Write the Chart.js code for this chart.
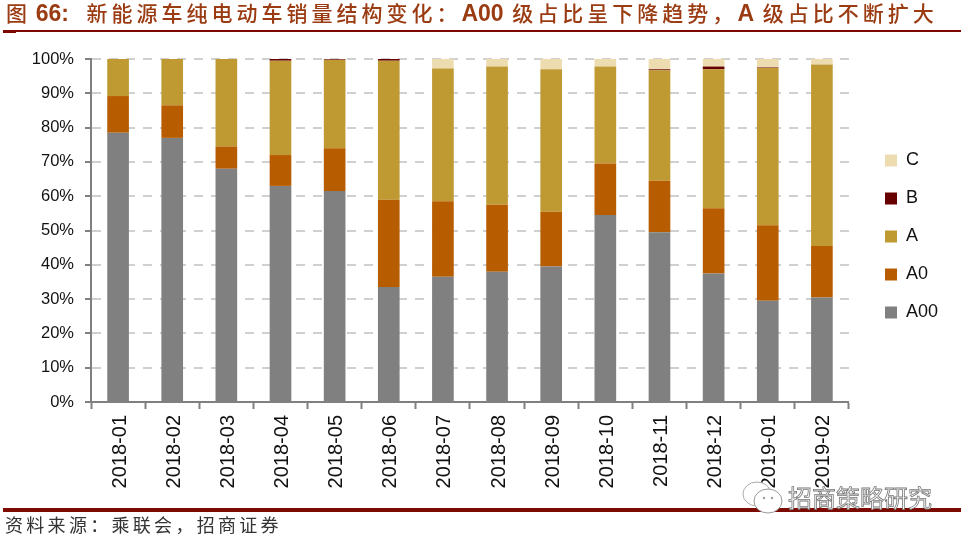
<!DOCTYPE html>
<html>
<head>
<meta charset="utf-8">
<script src="https://cdn.jsdelivr.net/npm/chart.js@4"></script>
<style>
  html, body { margin: 0; padding: 0; background: #fff; }
  #wrap { position: relative; width: 963px; height: 540px; overflow: hidden; }
  canvas { position: absolute; left: 0; top: 0; }
  #title { position: absolute; left: 6px; top: -2px; white-space: nowrap; color: #9a3b12; font: 500 21px "Noto Sans CJK SC"; letter-spacing: 4px; line-height: 28px; }
  #title b { font-family: "Liberation Sans"; font-size: 23px; letter-spacing: 0; }
  .rule { position: absolute; background: #7d0a00; }
  #source { position: absolute; left: 5px; top: 512px; color: #333; font: 18px/24px "Noto Sans CJK SC"; letter-spacing: 3.3px; white-space: nowrap; }
  #mark { position: absolute; left: 788px; top: 483px; color: #fff; font: 24px/28px "Noto Sans CJK SC"; -webkit-text-stroke: 0.8px #777; white-space: nowrap; }
  #icon { position: absolute; left: 741px; top: 480px; }
</style>
</head>
<body>
<div id="wrap">
  <canvas id="share-canvas" width="963" height="540"></canvas>
  <div id="title">图 <b style="margin-left:-4px">66:</b> &nbsp;新能源车纯电动车销量结构变化&#xFF1A;<b>A00</b> 级占比呈下降趋势&#xFF0C;<b>A</b> 级占比不断扩大</div>
  <div class="rule" style="left:3px;top:30px;width:958px;height:2px"></div>
  <div class="rule" style="left:3px;top:32px;width:13px;height:1px"></div>
  <div class="rule" style="left:3px;top:508px;width:958px;height:4px"></div>
  <div id="source">资料来源&#xFF1A;乘联会&#xFF0C;招商证券</div>
  <svg id="icon" width="44" height="36" viewBox="0 0 44 36">
    <ellipse cx="16" cy="14" rx="14" ry="12" fill="#fff" stroke="#aaa"/>
    <ellipse cx="27" cy="21" rx="14" ry="12" fill="#fff" stroke="#999"/>
    <circle cx="23" cy="18" r="1.2" fill="#999"/>
    <circle cx="31" cy="18" r="1.2" fill="#999"/>
  </svg>
  <div id="mark">招商策略研究</div>
</div>
<script>
const months = ['2018-01', '2018-02', '2018-03', '2018-04', '2018-05', '2018-06', '2018-07', '2018-08', '2018-09', '2018-10', '2018-11', '2018-12', '2019-01', '2019-02'];
const a00 = [78.5, 77, 68, 63, 61.5, 33.5, 36.5, 38, 39.5, 54.5, 49.5, 37.5, 29.5, 30.5];
const a0 = [10.7, 9.5, 6.5, 9, 12.5, 25.5, 22, 19.5, 16, 15, 15, 19, 22, 15];
const a = [10.8, 13.5, 25.5, 27.5, 25.7, 40.5, 38.7, 40.3, 41.5, 28.3, 32.2, 40.5, 45.9, 52.9];
const b = [0, 0, 0, 0.5, 0.2, 0.5, 0, 0, 0, 0, 0.3, 0.8, 0.15, 0];
const c = [0, 0, 0, 0, 0.1, 0, 2.8, 2.2, 3, 2.2, 3, 2.2, 2.45, 1.6];
const yTicks = [0, 10, 20, 30, 40, 50, 60, 70, 80, 90, 100];

// legend sits higher/further right than chart.js puts it by default
const moveLegend = {
  id: 'moveLegend',
  afterLayout(chart) {
    chart.legend.left += 16;
    chart.legend.right += 16;
    chart.legend.top -= 38;
    chart.legend.bottom -= 38;
  }
};

new Chart(document.getElementById('share-canvas'), {
  type: 'bar',
  data: {
    labels: months,
    datasets: [
      { label: 'A00', data: a00, backgroundColor: '#808080' },
      { label: 'A0', data: a0, backgroundColor: '#b85c00' },
      { label: 'A', data: a, backgroundColor: '#bf9a33' },
      { label: 'B', data: b, backgroundColor: '#660000' },
      { label: 'C', data: c, backgroundColor: '#ecdcb0' }
    ]
  },
  options: {
    responsive: false,
    animation: false,
    barPercentage: 0.4,
    categoryPercentage: 1,
    layout: { padding: { top: 59, bottom: 50, left: 0, right: 31 } },
    plugins: {
      legend: {
        position: 'right',
        reverse: true,
        labels: {
          boxWidth: 12,
          boxHeight: 12,
          padding: 20,
          color: '#111',
          font: { family: 'Liberation Sans', size: 18 }
        }
      },
      tooltip: { enabled: false }
    },
    scales: {
      x: {
        stacked: true,
        afterFit(scale) { scale.height = 88; },
        grid: { drawOnChartArea: false, offset: true, tickLength: 7, tickColor: '#808080', tickWidth: 2 },
        border: { color: '#808080', width: 2 },
        ticks: { color: '#111', font: { family: 'Liberation Sans', size: 20 }, maxRotation: 90, minRotation: 90, padding: 6, labelOffset: 2, autoSkip: false }
      },
      y: {
        stacked: true,
        min: 0,
        max: 100,
        afterFit(scale) { scale.width = 91; },
        afterBuildTicks(scale) { scale.ticks = yTicks.map(v => ({ value: v })); },
        grid: { color: '#d0d0d0', lineWidth: 2, tickColor: '#808080', tickLength: 6, tickWidth: 2 },
        border: { color: '#808080', width: 2, dash: [9, 8] },
        ticks: { color: '#111', font: { family: 'Liberation Sans', size: 16.5 }, padding: 11, callback: v => v + '%' }
      }
    }
  },
  plugins: [moveLegend]
});
</script>
</body>
</html>
